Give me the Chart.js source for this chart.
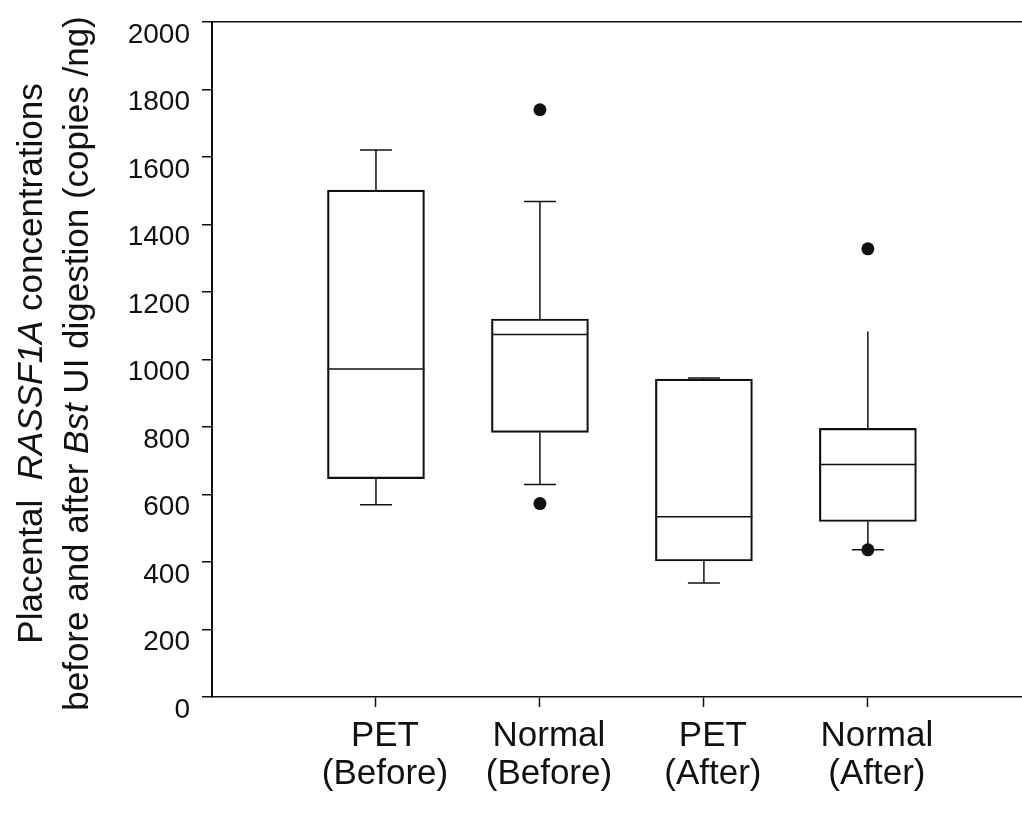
<!DOCTYPE html>
<html>
<head>
<meta charset="utf-8">
<script src="https://cdn.jsdelivr.net/npm/chart.js@4.4.1/dist/chart.umd.min.js"></script>
<style>
  html, body { margin: 0; padding: 0; background: #fff; overflow: hidden; }
  #wrap { width: 1022px; height: 813px; }
  canvas { display: block; }
</style>
</head>
<body>
<div id="wrap"><canvas id="box-chart" width="1022" height="813"></canvas></div>
<script>
// groups, in order along the x axis
let group_labels = [['PET', '(Before)'], ['Normal', '(Before)'], ['PET', '(After)'], ['Normal', '(After)']];
let group_pos = [1, 2, 3, 4];

// box plot values (copies/ng)
let whisker_low = [570, 630, 338, 436];
let q1 = [647, 784, 403, 520];
let median = [972, 1074, 534, 689];
let q3 = [1502, 1120, 942, 796];
let whisker_high = [1621, 1468, 945, 1083];
let cap_high = [true, true, true, false];

// outlying points
let outlier_group = [2, 2, 4, 4];
let outlier_value = [1740, 573, 1328, 436];

let y_ticks = [0, 200, 400, 600, 800, 1000, 1200, 1400, 1600, 1800, 2000];

let title_lines = [
    [['Placental  ', false], ['RASSF1A', true], [' concentrations', false]],
    [['before and after ', false], ['Bst', true], [' UI digestion (copies /ng)', false]]
];

let ink = '#111';
let font_family = "'Liberation Sans', Arial, Helvetica, sans-serif";

// whiskers, caps and median lines, drawn off the chart scales
const boxLines = {
    id: 'boxLines',
    afterDatasetsDraw(chart) {
        let ctx = chart.ctx;
        let x = chart.scales.x;
        let y = chart.scales.y;
        let bars = chart.getDatasetMeta(0).data;
        let cap = 16;
        ctx.save();
        ctx.strokeStyle = ink;
        ctx.lineWidth = 1.5;
        function seg(x1, y1, x2, y2) {
            ctx.beginPath();
            ctx.moveTo(x1, y1);
            ctx.lineTo(x2, y2);
            ctx.stroke();
        }
        group_pos.forEach((g, i) => {
            let cx = x.getPixelForValue(g);
            let half = bars[i].width / 2;
            seg(cx - half, y.getPixelForValue(median[i]), cx + half, y.getPixelForValue(median[i]));
            if (whisker_high[i] > q3[i]) {
                seg(cx, y.getPixelForValue(q3[i]), cx, y.getPixelForValue(whisker_high[i]));
            }
            if (cap_high[i]) {
                seg(cx - cap, y.getPixelForValue(whisker_high[i]), cx + cap, y.getPixelForValue(whisker_high[i]));
            }
            seg(cx, y.getPixelForValue(q1[i]), cx, y.getPixelForValue(whisker_low[i]));
            seg(cx - cap, y.getPixelForValue(whisker_low[i]), cx + cap, y.getPixelForValue(whisker_low[i]));
        });
        ctx.restore();
    }
};

// y axis title with italic gene / enzyme names
const yTitle = {
    id: 'yTitle',
    afterDraw(chart) {
        let ctx = chart.ctx;
        let area = chart.chartArea;
        let cy = (area.top + area.bottom) / 2 + 4;
        let baselines = [42, 88];
        ctx.save();
        ctx.fillStyle = ink;
        ctx.textBaseline = 'alphabetic';
        title_lines.forEach((parts, li) => {
            let widths = parts.map(p => {
                ctx.font = (p[1] ? 'italic ' : '') + '35px ' + font_family;
                return ctx.measureText(p[0]).width;
            });
            let total = widths.reduce((a, b) => a + b, 0);
            ctx.save();
            ctx.translate(baselines[li], cy);
            ctx.rotate(-Math.PI / 2);
            let pos = -total / 2;
            parts.forEach((p, k) => {
                ctx.font = (p[1] ? 'italic ' : '') + '35px ' + font_family;
                ctx.fillText(p[0], pos, 0);
                pos += widths[k];
            });
            ctx.restore();
        });
        ctx.restore();
    }
};

let ctx = document.getElementById('box-chart').getContext('2d');
let boxChart = new Chart(ctx, {
    type: 'bar',
    data: {
        datasets: [{
            type: 'bar',
            data: group_pos.map((g, i) => ({x: g, y: [q1[i], q3[i]]})),
            backgroundColor: 'rgba(0,0,0,0)',
            borderColor: ink,
            borderWidth: 1.5,
            borderSkipped: false,
            barThickness: 97
        }, {
            type: 'scatter',
            data: outlier_group.map((g, i) => ({x: g, y: outlier_value[i]})),
            pointRadius: 6.5,
            pointBackgroundColor: ink,
            pointBorderColor: ink,
            pointBorderWidth: 0
        }]
    },
    options: {
        responsive: false,
        animation: false,
        devicePixelRatio: 1,
        layout: { autoPadding: false, padding: { left: 112, top: 22, right: 0, bottom: 0 } },
        plugins: {
            legend: { display: false },
            tooltip: { enabled: false }
        },
        scales: {
            x: {
                type: 'linear',
                min: 0,
                max: 4.94,
                offset: false,
                afterBuildTicks: (scale) => { scale.ticks = group_pos.map(v => ({value: v})); },
                afterFit: (scale) => {
                    scale.height = 116;
                    scale.paddingLeft = 0;
                    scale.paddingRight = 0;
                },
                grid: { display: true, drawOnChartArea: false, offset: false, tickLength: 10, tickColor: ink, tickWidth: 1.5 },
                border: { display: true, color: ink, width: 1.5 },
                ticks: {
                    autoSkip: false,
                    maxRotation: 0,
                    padding: 10,
                    labelOffset: 9,
                    color: ink,
                    font: { family: font_family, size: 35, lineHeight: 1.1 },
                    callback: (v) => group_labels[group_pos.indexOf(v)]
                }
            },
            y: {
                min: 0,
                max: 2000,
                afterBuildTicks: (scale) => { scale.ticks = y_ticks.map(v => ({value: v})); },
                afterFit: (scale) => {
                    scale.width = 100;
                    scale.paddingTop = 0;
                    scale.paddingBottom = 0;
                },
                grid: {
                    color: (c) => (c.tick && c.tick.value === 2000) ? ink : 'rgba(0,0,0,0)',
                    lineWidth: 1.5,
                    tickLength: 10,
                    tickColor: ink,
                    tickWidth: 1.5
                },
                border: { display: true, color: ink, width: 2 },
                ticks: {
                    padding: 12,
                    labelOffset: 13,
                    color: ink,
                    font: { family: font_family, size: 28 },
                    callback: (v) => String(v)
                }
            }
        }
    },
    plugins: [boxLines, yTitle]
});
</script>
</body>
</html>
